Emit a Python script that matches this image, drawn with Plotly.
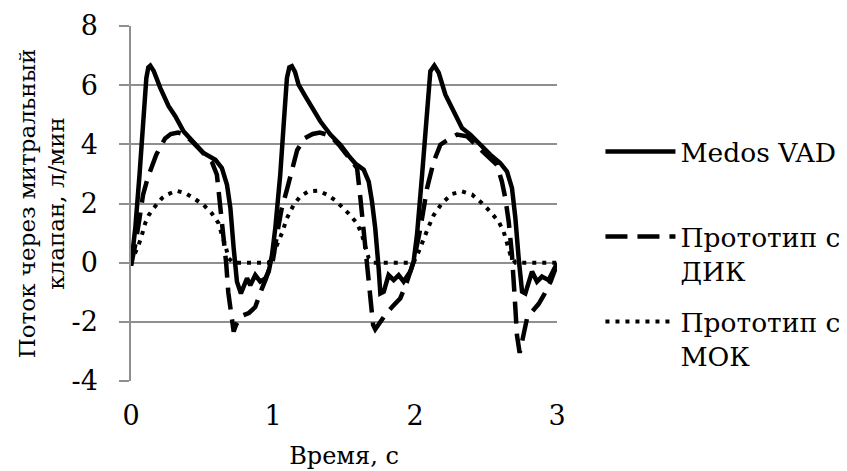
import plotly.graph_objects as go

# ---- data ----
medos_x = [0.0, 0.03, 0.06, 0.089, 0.108, 0.122, 0.136, 0.16, 0.206, 0.265, 0.312, 0.37, 0.44, 0.51,
           0.594, 0.64, 0.676, 0.7, 0.723, 0.746, 0.774, 0.798, 0.817, 0.84, 0.875, 0.91, 0.946, 0.97,
           0.993, 1.016, 1.051, 1.075, 1.098, 1.115, 1.133, 1.155, 1.18, 1.227, 1.286, 1.333, 1.404,
           1.474, 1.535, 1.58, 1.639, 1.674, 1.697, 1.72, 1.744, 1.756, 1.78, 1.814, 1.85, 1.885, 1.92,
           1.967, 1.99, 2.014, 2.05, 2.085, 2.108, 2.136, 2.167, 2.214, 2.272, 2.331, 2.39, 2.46, 2.53,
           2.6, 2.648, 2.683, 2.707, 2.73, 2.754, 2.777, 2.8, 2.824, 2.859, 2.894, 2.941, 2.972, 3.0]
medos_y = [-0.1, 1.16, 2.97, 4.89, 6.24, 6.6, 6.66, 6.48, 5.91, 5.29, 4.95, 4.44, 4.1, 3.71,
           3.48, 3.2, 2.63, 1.84, 0.49, -0.64, -1.04, -0.8, -0.53, -0.76, -0.42, -0.64, -0.53, -0.3,
           0.26, 1.16, 2.97, 4.66, 6.24, 6.6, 6.64, 6.45, 6.02, 5.63, 5.12, 4.78, 4.33,
           3.99, 3.6, 3.35, 3.14, 2.74, 2.07, 1.16, -0.19, -1.04, -0.98, -0.42, -0.59, -0.42, -0.64,
           -0.3, 0.03, 0.94, 2.97, 5.23, 6.47, 6.66, 6.42, 5.68, 5.12, 4.55, 4.33, 3.99, 3.65,
           3.37, 3.08, 2.52, 1.5, 0.15, -0.98, -1.04, -0.64, -0.3, -0.64, -0.47, -0.59, -0.3, -0.02]

dik_x = [0.0, 0.03, 0.06, 0.085, 0.12, 0.178, 0.24, 0.28, 0.33, 0.37, 0.44, 0.51, 0.57, 0.605, 0.64,
         0.655, 0.67, 0.685, 0.71, 0.723, 0.74, 0.78, 0.83, 0.875, 0.92, 0.95, 0.98,
         1.0, 1.03, 1.06, 1.1, 1.13, 1.17, 1.22, 1.28, 1.33, 1.4, 1.47, 1.54, 1.592, 1.615, 1.639,
         1.662, 1.686, 1.705, 1.72, 1.756, 1.8, 1.85, 1.897, 1.944, 1.99,
         2.038, 2.085, 2.132, 2.179, 2.214, 2.296, 2.367, 2.43, 2.5, 2.577, 2.612, 2.636, 2.66, 2.683,
         2.695, 2.707, 2.718, 2.737, 2.754, 2.789, 2.824, 2.87, 2.907, 2.955, 2.99]
dik_y = [-0.1, 0.6, 1.5, 2.3, 2.9, 3.65, 4.2, 4.35, 4.4, 4.35, 4.05, 3.7, 3.4, 2.97, 1.5,
         0.7, 0.0, -1.0, -2.0, -2.33, -2.1, -1.8, -1.7, -1.5, -0.9, -0.55, -0.1,
         0.1, 1.0, 1.8, 2.5, 3.1, 3.8, 4.2, 4.35, 4.4, 4.3, 3.95, 3.55, 3.2, 2.2, 1.0,
         -0.3, -1.5, -2.1, -2.25, -2.0, -1.7, -1.44, -1.2, -0.64, 0.03,
         1.16, 2.52, 3.42, 3.99, 4.1, 4.33, 4.27, 4.0, 3.65, 3.31, 2.74, 2.18, 1.38, 0.26,
         -0.42, -1.55, -2.45, -3.05, -2.67, -1.88, -1.66, -1.4, -1.1, -0.64, -0.19]

mok_x = [0.0, 0.03, 0.054, 0.077, 0.1, 0.124, 0.159, 0.218, 0.253, 0.319, 0.382, 0.441, 0.512, 0.57,
         0.617, 0.64, 0.664, 0.687, 0.72, 0.97,
         1.004, 1.028, 1.063, 1.098, 1.145, 1.192, 1.25, 1.32, 1.38, 1.44, 1.474, 1.533, 1.592, 1.627,
         1.65, 1.674, 1.709, 1.99,
         2.026, 2.061, 2.096, 2.132, 2.19, 2.261, 2.331, 2.402, 2.472, 2.531, 2.59, 2.625, 2.648,
         2.672, 2.707, 3.0]
mok_y = [0.0, 0.3, 0.6, 0.94, 1.33, 1.6, 1.84, 2.18, 2.3, 2.43, 2.35, 2.18, 1.95, 1.66,
         1.33, 0.94, 0.6, 0.15, 0.0, 0.0,
         0.26, 0.6, 1.0, 1.5, 1.95, 2.24, 2.41, 2.43, 2.3, 2.1, 1.95, 1.66, 1.33, 0.94,
         0.54, 0.15, 0.0, 0.0,
         0.37, 0.83, 1.22, 1.61, 2.01, 2.32, 2.41, 2.3, 2.01, 1.72, 1.38, 1.04, 0.7,
         0.26, 0.0, 0.0]

series_names = ["Medos VAD", "Прототип с<br>ДИК", "Прототип с<br>МОК"]
x_ticks = [0, 1, 2, 3]
y_ticks = [-4, -2, 0, 2, 4, 6, 8]

FONT = "DejaVu Serif"
GRID = "#8f8f8f"

fig = go.Figure()
fig.add_trace(go.Scatter(x=medos_x, y=medos_y, mode="lines", name=series_names[0] + "<br> ",
                         line=dict(color="black", width=4.5), legendgroup="a"))
fig.add_trace(go.Scatter(x=dik_x, y=dik_y, mode="lines", name=series_names[1],
                         line=dict(color="black", width=4.5, dash="22px,10px"), legendgroup="b"))
fig.add_trace(go.Scatter(x=mok_x, y=mok_y, mode="lines", name=series_names[2],
                         line=dict(color="black", width=4, dash="4px,6px"), legendgroup="c"))

fig.update_layout(
    width=839, height=463,
    margin=dict(l=123, r=290, t=18, b=90, autoexpand=False),
    paper_bgcolor="white", plot_bgcolor="white",
    font=dict(family=FONT, size=25, color="black"),
    showlegend=True,
    legend=dict(x=1.102, y=0.713, xanchor="left", yanchor="top", valign="top",
                itemwidth=70, tracegroupgap=13, traceorder="grouped",
                font=dict(family=FONT, size=26.5, color="black"),
                bgcolor="rgba(0,0,0,0)"),
)
fig.update_xaxes(range=[0, 3], tickvals=x_ticks, ticktext=[str(v) for v in x_ticks],
                 showgrid=False, zeroline=False, showline=False, ticks="",
                 ticklabelstandoff=16, tickfont=dict(family=FONT, size=27),
                 title=dict(text="Время, с", standoff=17, font=dict(family=FONT, size=24)))
fig.update_yaxes(range=[-4, 8], tickvals=y_ticks, ticktext=[str(v) for v in y_ticks],
                 showgrid=True, gridcolor=GRID, gridwidth=1.5, zeroline=False,
                 showline=True, linecolor=GRID, linewidth=1.5,
                 ticks="outside", ticklen=10, tickcolor=GRID, tickwidth=1.5,
                 ticklabelstandoff=16, tickfont=dict(family=FONT, size=27),
                 title=dict(text="Поток через митральный<br>клапан, л/мин", standoff=0,
                            font=dict(family=FONT, size=23)))

fig.write_html("out.html")
